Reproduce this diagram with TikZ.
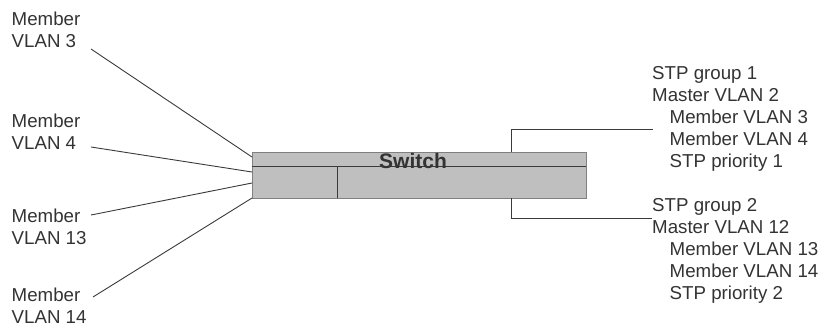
\documentclass[tikz,border=0pt]{standalone}
\usepackage{fontspec}
\setmainfont{Liberation Sans}
\definecolor{txt}{HTML}{333333}
\definecolor{boxfill}{HTML}{BFBFBF}
\definecolor{ln}{HTML}{3A3A3A}
\begin{document}
\begin{tikzpicture}[x=1pt,y=-1pt,
  lbl/.style={anchor=north west, inner sep=0, align=left, text=txt, font=\fontsize{18.7}{22}\selectfont},
  wire/.style={draw=ln, line width=0.9pt}]
\useasboundingbox (0,0) rectangle (821,327);
% switch box
\node[draw=gray, fill=boxfill, minimum width=334pt, minimum height=46pt, inner sep=0, line width=0.8pt] (sw) at (419,175) {};
\coordinate (hl) at (252,166);
\draw[wire] (hl) -- (hl -| sw.east);
\coordinate (dv) at (337,166);
\draw[wire] (dv) -- (dv |- sw.south);
\node[font=\bfseries\fontsize{21}{24}\selectfont, text=txt, inner sep=0] (swl) at (413,161) {Switch};
% left labels
\node[lbl] (m3) at (11.5,12) {Member\\VLAN 3};
\node[lbl] (m4) at (11.5,114) {Member\\VLAN 4};
\node[lbl] (m13) at (11.5,209) {Member\\VLAN 13};
\node[lbl] (m14) at (11.5,287.5) {Member\\VLAN 14};
% right labels
\node[lbl] (g1) at (652,66) {STP group 1\\Master VLAN 2\\\hspace*{17.5pt}Member VLAN 3\\\hspace*{17.5pt}Member VLAN 4\\\hspace*{17.5pt}STP priority 1};
\node[lbl] (g2) at (652,198) {STP group 2\\Master VLAN 12\\\hspace*{17.5pt}Member VLAN 13\\\hspace*{17.5pt}Member VLAN 14\\\hspace*{17.5pt}STP priority 2};
% left connectors
\coordinate (a3) at (91,49);   \coordinate (b3) at (252,157);
\coordinate (a4) at (91,147);  \coordinate (b4) at (252,172);
\coordinate (a13) at (91,215); \coordinate (b13) at (252,183);
\coordinate (a14) at (93,297); \coordinate (b14) at (252,198);
\draw[wire] (a3) -- (b3);
\draw[wire] (a4) -- (b4);
\draw[wire] (a13) -- (b13);
\draw[wire] (a14) -- (b14);
% right connectors
\coordinate (r1) at (653,129); \coordinate (k1) at (511,129);
\coordinate (r2) at (652,218); \coordinate (k2) at (511,218);
\draw[wire] (k1 |- sw.north) -- (k1) -- (r1);
\draw[wire] (k2 |- sw.south) -- (k2) -- (r2);
\end{tikzpicture}
\end{document}
